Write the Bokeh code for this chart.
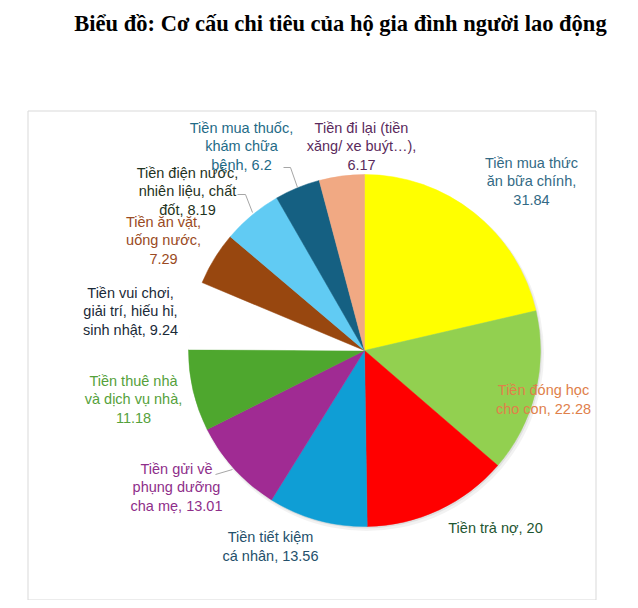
import math
from bokeh.plotting import figure
from bokeh.models import Range1d, ColumnDataSource
from bokeh.core.properties import value
from bokeh.embed import file_html
from bokeh.resources import INLINE

# ---- data ----
categories = [
    "Tiền mua thức\năn bữa chính",
    "Tiền đóng học\ncho con",
    "Tiền trả nợ",
    "Tiền tiết kiệm\ncá nhân",
    "Tiền gửi về\nphụng dưỡng\ncha mẹ",
    "Tiền thuê nhà\nvà dịch vụ nhà",
    "Tiền vui chơi,\ngiải trí, hiếu hỉ,\nsinh nhật",
    "Tiền ăn vặt,\nuống nước",
    "Tiền điện nước,\nnhiên liệu, chất\nđốt",
    "Tiền mua thuốc,\nkhám chữa\nbệnh",
    "Tiền đi lại (tiền\nxăng/ xe buýt…)",
]
values = [31.84, 22.28, 20, 13.56, 13.01, 11.18, 9.24, 7.29, 8.19, 6.2, 6.17]
value_sep = [",\n", ", ", ", ", ", ", ", ", ",\n", ", ", ",\n", ", ", ", ", ",\n"]

slice_colors = ["#FFFF00", "#92D050", "#FF0000", "#0F9ED5", "#A02B93", "#4EA72E",
                "#FFFFFF", "#98470F", "#61CBF3", "#156082", "#F1A983"]
label_colors = ["#336A85", "#E0804A", "#1E5631", "#24506B", "#8E2E8A", "#55A13B",
                "#1B2A38", "#9A4A23", "#1F3322", "#1F6B87", "#5A2A5C"]

# label block centres, page pixels (layout)
label_pos = [(531, 181), (543, 399), (495, 527), (270, 546), (176, 487), (133, 399),
             (130, 311), (163, 240), (187, 191), (241, 146), (361, 146)]

W, H = 630, 600
def Y(py):
    return H - py

p = figure(width=W, height=H, output_backend="svg", toolbar_location=None,
           x_range=Range1d(0, W), y_range=Range1d(0, H),
           x_axis_type=None, y_axis_type=None, min_border=0)
p.grid.visible = False
p.outline_line_color = None
p.background_fill_color = "white"
p.border_fill_color = "white"

# chart area border
p.quad(left=[27.5], right=[595.5], top=[Y(110.5)], bottom=[Y(599.5)],
       fill_color=None, line_color="#D9D9D9", line_width=1)

# title
p.text(x=[340], y=[Y(23)], text=["Biểu đồ: Cơ cấu chi tiêu của hộ gia đình người lao động"],
       text_font=value("Liberation Serif"), text_font_style="bold",
       text_font_size="22.5px", text_align="center", text_baseline="alphabetic",
       text_color="#000000")

# pie
cx, cy, r = 364, Y(350), 176
total = sum(values)
starts, ends = [], []
acc = 0.0
for v in values:
    starts.append(math.pi / 2 - 2 * math.pi * acc / total)
    acc += v
    ends.append(math.pi / 2 - 2 * math.pi * acc / total)

# soft shadow
p.circle(x=[cx + 2], y=[cy - 3], radius=r + 1.5, fill_color="#000000", fill_alpha=0.05, line_color=None)
p.circle(x=[cx + 1], y=[cy - 1.5], radius=r + 0.5, fill_color="#000000", fill_alpha=0.07, line_color=None)

src = ColumnDataSource(dict(start=starts, end=ends, color=slice_colors))
p.wedge(x=cx, y=cy, radius=r, start_angle="start", end_angle="end", direction="clock",
        fill_color="color", line_color="color", line_width=0.5, source=src)

# leader lines
p.multi_line(xs=[[283, 290, 297], [237, 245, 252], [215, 232]],
             ys=[[Y(167), Y(167), Y(187)], [Y(194), Y(194), Y(212)], [Y(474), Y(469)]],
             line_color="#A6A6A6", line_width=1)

# labels
texts = [c + s + f"{v:g}" for c, s, v in zip(categories, value_sep, values)]
p.text(x=[q[0] for q in label_pos], y=[Y(q[1]) for q in label_pos], text=texts,
       text_font=value("Liberation Sans"), text_font_size="14.5px",
       text_align="center", text_baseline="middle", text_line_height=1.17,
       text_color=label_colors)

open("out.html", "w").write(file_html(p, INLINE))
